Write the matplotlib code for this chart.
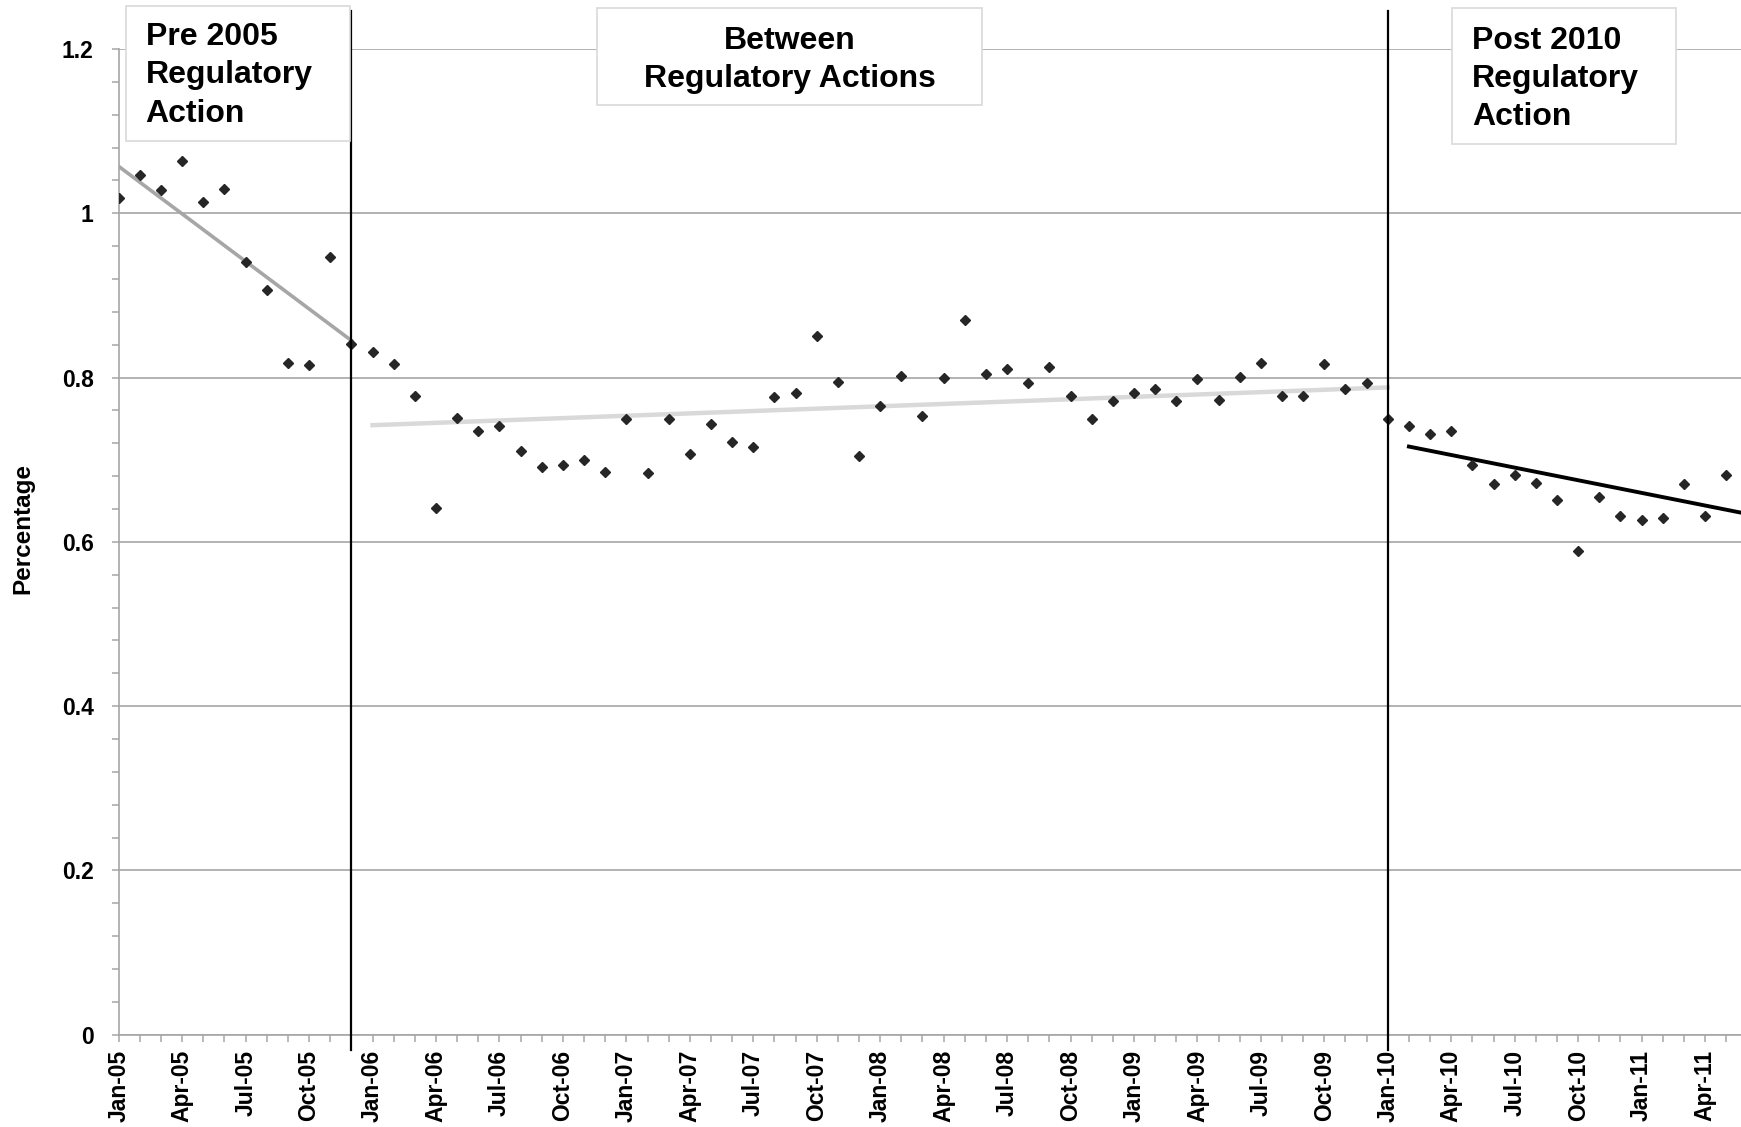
import numpy as np
import pandas as pd
import matplotlib
matplotlib.use("Agg")
import matplotlib.pyplot as plt
from matplotlib.patches import Rectangle
from matplotlib.ticker import MultipleLocator, FixedLocator, FixedFormatter

plt.rcParams["font.family"] = ["Liberation Sans", "DejaVu Sans"]
plt.rcParams["font.weight"] = "bold"

# ── data ──────────────────────────────────────────────────────────────
months = pd.date_range("2005-01-01", periods=77, freq="MS")
pct = [
    1.019, 1.046, 1.028, 1.064, 1.014, 1.030, 0.941, 0.907, 0.818, 0.815, 0.947, 0.841,
    0.831, 0.816, 0.778, 0.641, 0.751, 0.735, 0.741, 0.711, 0.691, 0.694, 0.700, 0.685,
    0.749, 0.684, 0.749, 0.707, 0.743, 0.721, 0.716, 0.776, 0.781, 0.851, 0.794, 0.705,
    0.765, 0.802, 0.753, 0.800, 0.870, 0.804, 0.810, 0.793, 0.813, 0.777, 0.750, 0.772,
    0.781, 0.786, 0.772, 0.798, 0.773, 0.801, 0.818, 0.778, 0.777, 0.817, 0.786, 0.793,
    0.750, 0.741, 0.731, 0.735, 0.694, 0.671, 0.681, 0.672, 0.651, 0.589, 0.655, 0.632,
    0.627, 0.629, 0.671, 0.631, 0.681,
]

# trend lines (month index, value)
trend_pre_x, trend_pre_y = [0, 11], [1.057, 0.845]
trend_mid_x, trend_mid_y = [12, 60], [0.742, 0.788]
trend_post_x, trend_post_y = [61, 77], [0.716, 0.634]

# regulatory actions: Dec-05 and Jan-10
action_months = [11, 60]

box_texts = ["Pre 2005\nRegulatory\nAction",
             "Between\nRegulatory Actions",
             "Post 2010\nRegulatory\nAction"]

# ── figure ────────────────────────────────────────────────────────────
fig = plt.figure(figsize=(17.41, 11.27), dpi=100, facecolor="white")
ax = fig.add_axes([0.0682, 0.0818, 0.9318, 0.8748])

x = np.arange(len(months))
grid_c = "#a6a6a6"

ax.set_xlim(0, 76.7)
ax.set_ylim(0, 1.2)
ax.yaxis.set_major_locator(MultipleLocator(0.2))
ax.yaxis.set_minor_locator(MultipleLocator(0.04))
ax.yaxis.set_major_formatter(matplotlib.ticker.FuncFormatter(lambda v, p: f"{v:g}"))
ax.grid(axis="y", which="major", color=grid_c, linewidth=1.2, zorder=0)
ax.set_axisbelow(True)

ax.xaxis.set_major_locator(FixedLocator(x[::3]))
ax.xaxis.set_major_formatter(FixedFormatter([m.strftime("%b-%y") for m in months[::3]]))
ax.xaxis.set_minor_locator(FixedLocator(x))

for s in ["top", "right"]:
    ax.spines[s].set_visible(False)
for s in ["left", "bottom"]:
    ax.spines[s].set_color(grid_c)
    ax.spines[s].set_linewidth(1.2)

ax.tick_params(axis="y", which="both", direction="out", length=5, width=1.1,
               color=grid_c, labelsize=16.5, pad=13)
ax.tick_params(axis="x", which="both", direction="out", length=5, width=1.1,
               color=grid_c, labelsize=16.5, pad=6, labelrotation=90)

ax.set_ylabel("Percentage", fontsize=17.5, fontweight="bold")
ax.yaxis.set_label_coords(-0.052, 0.514)

# points
ax.plot(x, pct, linestyle="none", marker="D", markersize=5.5, color="#262626", zorder=4)

# trends
ax.plot(trend_pre_x, trend_pre_y, color="#a6a6a6", linewidth=2.6, zorder=3)
ax.plot(trend_mid_x, trend_mid_y, color="#d9d9d9", linewidth=3.2, zorder=3)
ax.plot(trend_post_x, trend_post_y, color="black", linewidth=2.8, zorder=3)

# regulatory action markers
for m in action_months:
    ax.plot([m, m], [-0.019, 1.246], color="black", linewidth=1.6, clip_on=False, zorder=6)

# label boxes (figure fraction)
boxes = [
    (0.0724, 0.8749, 0.1287, 0.1198),
    (0.3429, 0.9068, 0.2211, 0.0861),
    (0.8340, 0.8722, 0.1287, 0.1207),
]
text_pos = [(0.0836, 0.9805, "left"), (0.4535, 0.9770, "center"), (0.8455, 0.9770, "left")]
for (bx, by, bw, bh), (tx, ty, ha), txt in zip(boxes, text_pos, box_texts):
    fig.add_artist(Rectangle((bx, by), bw, bh, transform=fig.transFigure,
                             facecolor="white", edgecolor="#d9d9d9", linewidth=1.2, zorder=5))
    fig.text(tx, ty, txt, ha=ha, va="top", multialignment=ha, fontsize=23,
             fontweight="bold", linespacing=1.36, zorder=7)

fig.savefig("out.png", dpi=100, facecolor="white")
